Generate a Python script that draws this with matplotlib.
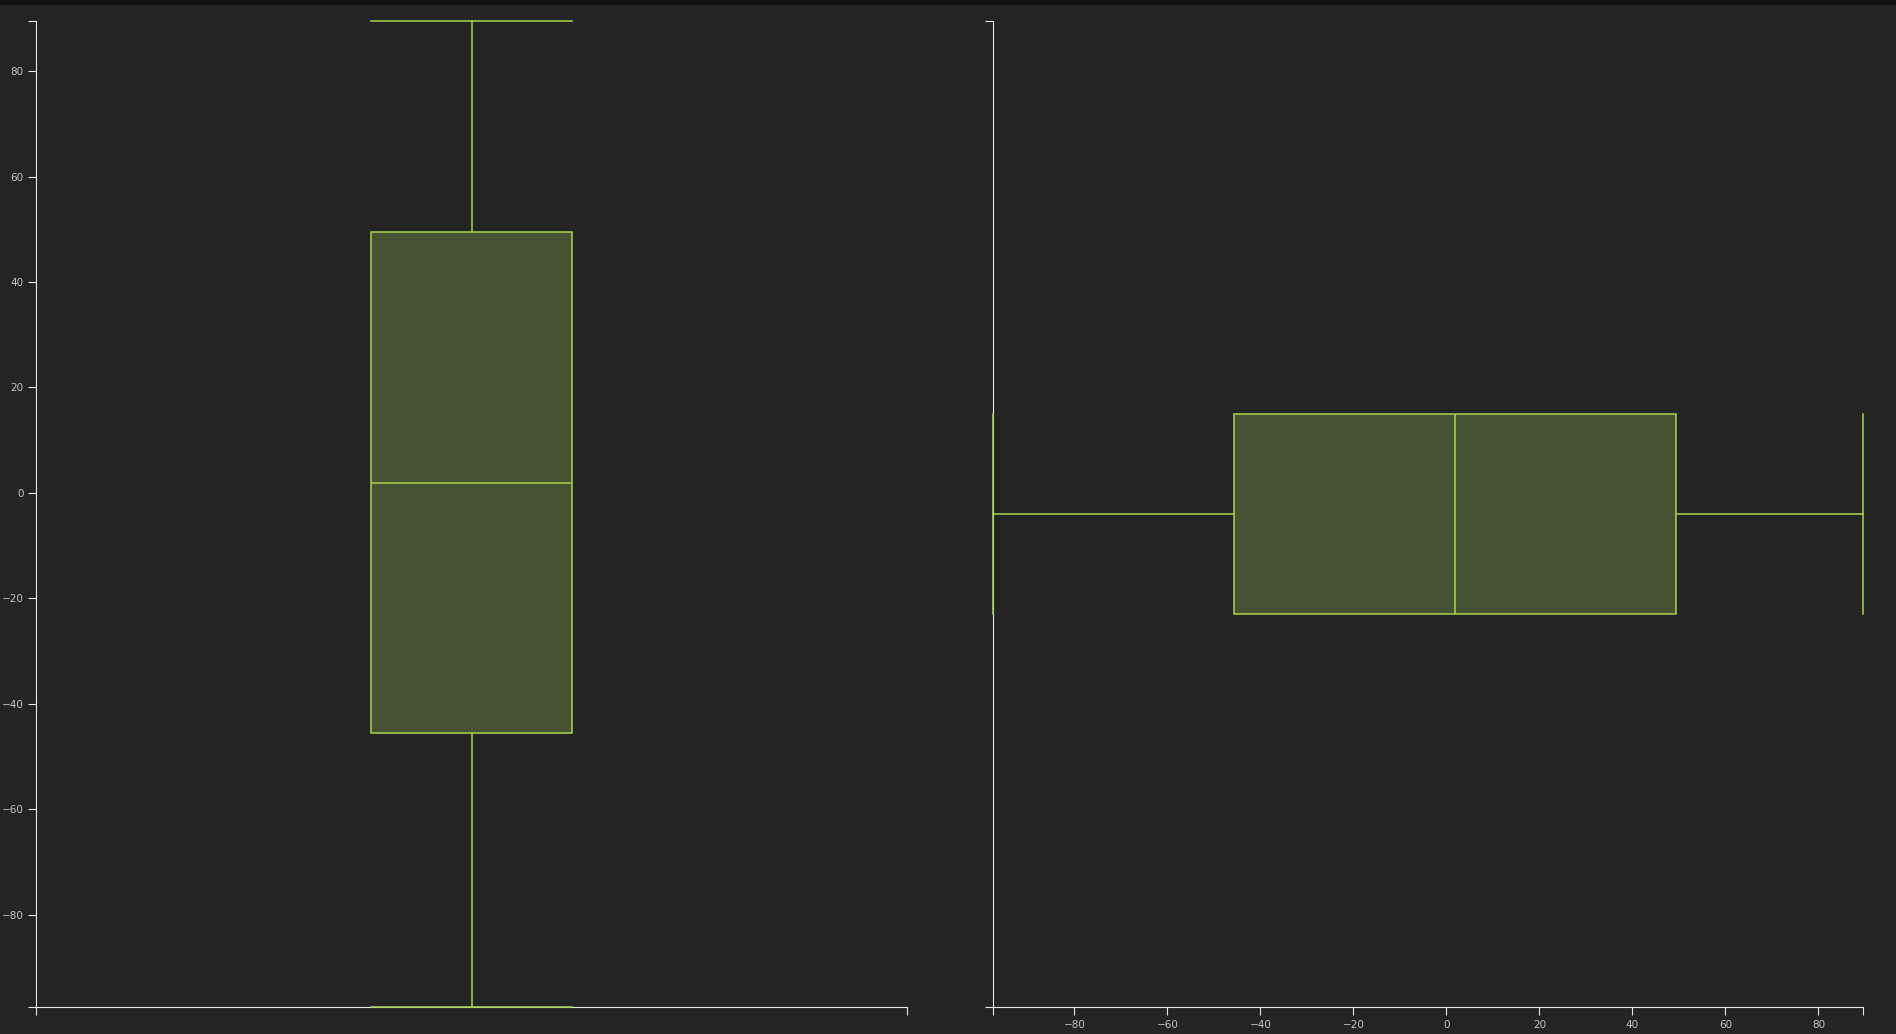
import matplotlib.pyplot as plt

# box statistics (same data in both panels)
q1 = -45.6
median = 1.8
q3 = 49.4
low = -97.5
high = 89.6
ticks = [-80, -60, -40, -20, 0, 20, 40, 60, 80]

bg = '#242424'
line_col = '#a6d64b'
fill_col = '#455233'
axis_col = '#e8e8e8'
text_col = '#c4c4c4'

stats = [dict(med=median, q1=q1, q3=q3, whislo=low, whishi=high, fliers=[])]

fig = plt.figure(figsize=(18.96, 10.34), dpi=100, facecolor=bg)
# dark strip at the very top
fig.patches.append(plt.Rectangle((0, 1 - 5 / 1034), 1, 5 / 1034, transform=fig.transFigure,
                                 facecolor='#111111', edgecolor='none'))

ax1 = fig.add_axes([36 / 1896, 27 / 1034, 871 / 1896, 986.5 / 1034])
ax2 = fig.add_axes([993 / 1896, 27 / 1034, 870 / 1896, 986.5 / 1034])

lw = 1.1
box_kw = dict(patch_artist=True, showfliers=False,
              boxprops=dict(facecolor=fill_col, edgecolor=line_col, linewidth=lw),
              medianprops=dict(color=line_col, linewidth=lw),
              whiskerprops=dict(color=line_col, linewidth=lw),
              capprops=dict(color=line_col, linewidth=lw),
              zorder=3)

ax1.bxp(stats, positions=[0], widths=0.231, capwidths=0.231, vert=True, **box_kw)
ax2.bxp(stats, positions=[0], widths=0.203, capwidths=0.203, vert=False, **box_kw)

for ax in (ax1, ax2):
    ax.set_facecolor(bg)
    for s in ('top', 'right'):
        ax.spines[s].set_visible(False)
    for s in ('left', 'bottom'):
        ax.spines[s].set_color(axis_col)
        ax.spines[s].set_linewidth(0.8)
    ax.tick_params(which='both', colors=axis_col, labelcolor=text_col, length=6,
                   width=0.8, labelsize=7.5, pad=3)
    for art in ax.get_children():
        try:
            art.set_clip_on(False)
        except Exception:
            pass

# left panel: vertical box
ax1.set_xlim(-0.5, 0.5)
ax1.set_ylim(low, high)
ax1.set_yticks(ticks)
ax1.set_yticklabels([str(t).replace('-', '\u2212') for t in ticks])
ax1.set_yticks([low, high], minor=True)
ax1.set_xticks([])
ax1.set_xticks([-0.5, 0.5], minor=True)

# right panel: horizontal box
ax2.set_ylim(-0.5, 0.5)
ax2.set_xlim(low, high)
ax2.set_xticks(ticks)
ax2.set_xticklabels([str(t).replace('-', '\u2212') for t in ticks])
ax2.set_xticks([low, high], minor=True)
ax2.set_yticks([])
ax2.set_yticks([-0.5, 0.5], minor=True)

fig.savefig('out.png', dpi=100, facecolor=bg)
